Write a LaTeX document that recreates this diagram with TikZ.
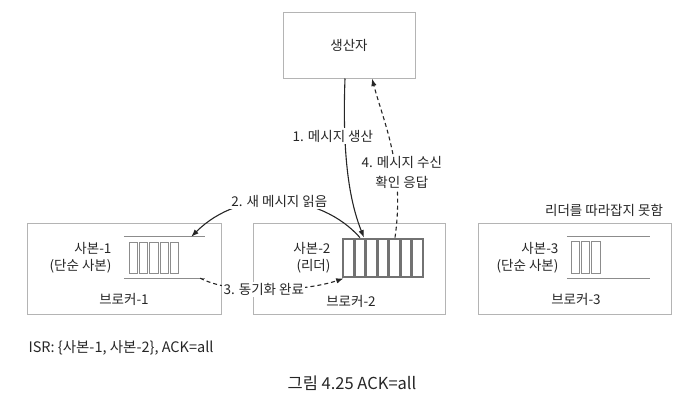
\documentclass[tikz,border=0pt]{standalone}
\usepackage{fontspec}
\setmainfont{Noto Sans CJK KR}
\usetikzlibrary{arrows.meta}
\definecolor{txtgray}{HTML}{262626}
\definecolor{boxgray}{HTML}{B4B4B4}
\definecolor{qgray}{HTML}{8C8C8C}
\definecolor{leadgray}{HTML}{727272}
\begin{document}
\begin{tikzpicture}[x=1pt, y=-1pt,
  every node/.style = {text=txtgray, font=\fontsize{13.5}{17}\selectfont},
  box/.style = {draw=boxgray, line width=1pt, inner sep=0pt},
  qbox/.style = {inner sep=0pt, minimum height=41pt},
  qline/.style = {draw=qgray, line width=1pt},
  cell/.style = {draw=qgray, line width=0.8pt},
  leader/.style = {draw=leadgray, line width=2.8pt, inner sep=0pt, minimum width=80pt, minimum height=38pt},
  msg/.style = {fill=white, inner sep=1.5pt, align=center},
  conn/.style = {draw=black!85, line width=1.1pt, -{Latex[length=7.5pt, width=5.5pt]}},
  ack/.style = {dash pattern=on 4pt off 3pt}]
\useasboundingbox (0,0) rectangle (682,400);

% producer and brokers
\node[box, minimum width=132pt, minimum height=66pt] (prod) at (349,45) {생산자};
\node[box, minimum width=194pt, minimum height=91pt] (b1) at (124,268.5) {};
\node[box, minimum width=192pt, minimum height=91pt] (b2) at (349,268.5) {};
\node[box, minimum width=193pt, minimum height=91pt] (b3) at (574.5,268.5) {};
\node (b1name) at (124,299) {브로커-1};
\node (b2name) at (351,301) {브로커-2};
\node (b3name) at (576,299) {브로커-3};

% replicas
\node[anchor=east, align=right] (r1) at (115,258) {사본-1\\(단순 사본)};
\node[anchor=east, align=right] (r2) at (334,258) {사본-2\\(리더)};
\node[anchor=east, align=right] (r3) at (562,258) {사본-3\\(단순 사본)};

\node[qbox, minimum width=81pt] (q1) at (164.5,257.5) {};
\draw[qline] (q1.north west) -- (q1.north east);
\draw[qline] (q1.south west) -- (q1.south east);
\foreach \i in {0,...,4}
  \draw[cell] (129+\i*10.3,242) rectangle ++(8.3,31);

\node[qbox, minimum width=83pt] (q3) at (608.5,257.5) {};
\draw[qline] (q3.north west) -- (q3.north east);
\draw[qline] (q3.south west) -- (q3.south east);
\foreach \i in {0,...,2}
  \draw[cell] (571+\i*10.3,241) rectangle ++(8.3,32);

\node[leader] (q2) at (383,258) {};
\foreach \i in {1,...,6}
  \draw[leadgray, line width=2.8pt] (343+\i*80/7,239) -- ++(0,38);

\node (lag) at (604,210) {리더를 따라잡지 못함};

% messages
\draw[conn] ([xshift=-4pt]prod.south) .. controls +(-3,80) and +(-14,-35) .. ([xshift=-19pt]q2.north)
  node[msg, pos=0.27, xshift=-12pt] {1. 메시지 생산};
\draw[conn] ([xshift=-23pt]q2.north) .. controls +(-40,-45) and +(50,-50) .. ([xshift=-14pt]q1.north east)
  node[msg, pos=0.5] {2. 새 메시지 읽음};
\draw[conn, ack] ([xshift=-5pt]q1.south east) .. controls +(35,18) and +(-35,12) .. ([xshift=2pt]q2.south west)
  node[msg, pos=0.45] {3. 동기화 완료};
\draw[conn, ack] ([xshift=12pt]q2.north) .. controls +(10,-70) and +(12,45) .. ([xshift=23pt]prod.south)
  node[msg, pos=0.35, xshift=6pt, font=\fontsize{13.5}{20}\selectfont] {4. 메시지 수신\\확인 응답};

\node[anchor=west, font=\fontsize{14.5}{18}\selectfont] (isr) at (25,348) {ISR: \{사본-1, 사본-2\}, ACK=all};
\node[font=\fontsize{16.5}{20}\selectfont] (cap) at (352,383) {그림 4.25 ACK=all};
\end{tikzpicture}
\end{document}
